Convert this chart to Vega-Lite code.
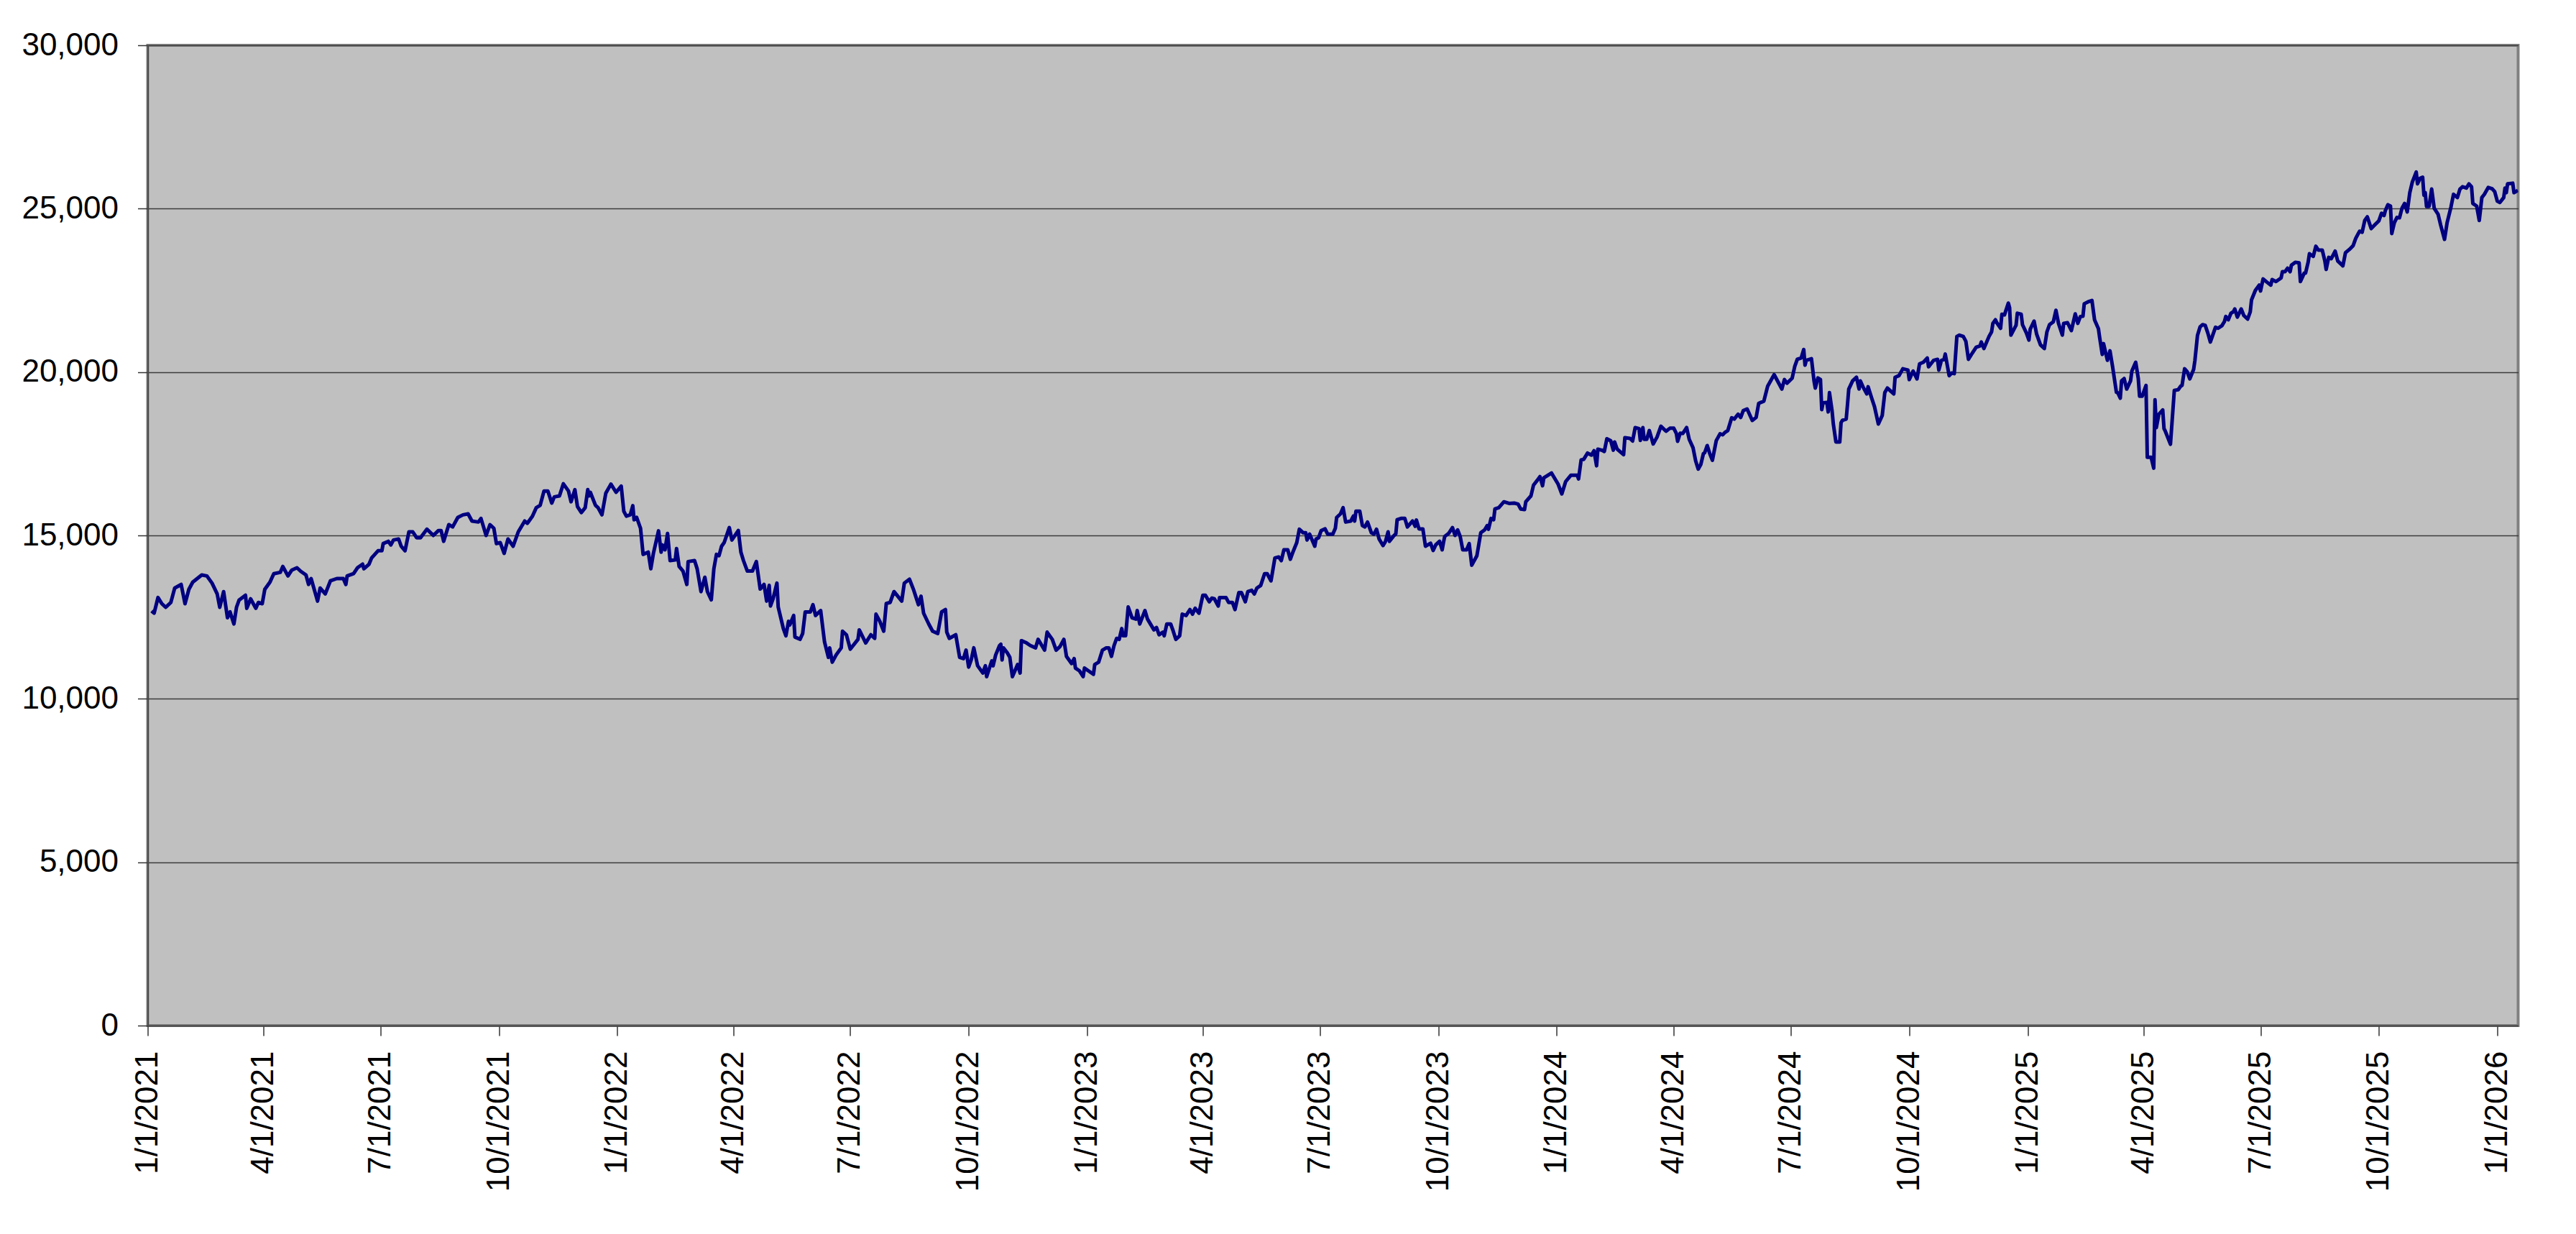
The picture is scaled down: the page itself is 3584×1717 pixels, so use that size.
{
  "$schema": "https://vega.github.io/schema/vega-lite/v6.json",
  "description": "Daily index level, January 2021 to January 2026.",
  "width": 3298,
  "height": 1364,
  "autosize": "none",
  "padding": {"left": 205.5, "top": 63, "right": 80.5, "bottom": 290},
  "background": "#ffffff",
  "data": {"name": "series"},
  "datasets": {
    "series": [
      {"d":"2021-01-04","v":12690},{"d":"2021-01-06","v":12620},{"d":"2021-01-09","v":13100},{"d":"2021-01-12","v":12910},{"d":"2021-01-15","v":12800},{"d":"2021-01-19","v":12950},{"d":"2021-01-22","v":13390},{"d":"2021-01-27","v":13500},{"d":"2021-01-30","v":12910},
      {"d":"2021-02-02","v":13350},{"d":"2021-02-05","v":13570},{"d":"2021-02-12","v":13790},{"d":"2021-02-16","v":13760},{"d":"2021-02-20","v":13540},{"d":"2021-02-24","v":13210},{"d":"2021-02-26","v":12800},
      {"d":"2021-03-01","v":13280},{"d":"2021-03-04","v":12480},{"d":"2021-03-06","v":12660},{"d":"2021-03-09","v":12290},{"d":"2021-03-11","v":12800},{"d":"2021-03-13","v":13020},{"d":"2021-03-18","v":13170},{"d":"2021-03-19","v":12770},{"d":"2021-03-22","v":13060},{"d":"2021-03-26","v":12770},{"d":"2021-03-28","v":12950},{"d":"2021-03-31","v":12910},
      {"d":"2021-04-02","v":13350},{"d":"2021-04-06","v":13570},{"d":"2021-04-09","v":13830},{"d":"2021-04-14","v":13870},{"d":"2021-04-16","v":14050},{"d":"2021-04-20","v":13760},{"d":"2021-04-23","v":13940},{"d":"2021-04-27","v":14010},{"d":"2021-04-30","v":13900},
      {"d":"2021-05-04","v":13790},{"d":"2021-05-06","v":13500},{"d":"2021-05-08","v":13680},{"d":"2021-05-13","v":12990},{"d":"2021-05-15","v":13390},{"d":"2021-05-19","v":13210},{"d":"2021-05-23","v":13610},{"d":"2021-05-28","v":13680},
      {"d":"2021-06-02","v":13680},{"d":"2021-06-04","v":13500},{"d":"2021-06-05","v":13760},{"d":"2021-06-10","v":13830},{"d":"2021-06-13","v":14010},{"d":"2021-06-17","v":14120},{"d":"2021-06-18","v":13980},{"d":"2021-06-22","v":14120},{"d":"2021-06-24","v":14310},{"d":"2021-06-29","v":14530},
      {"d":"2021-07-02","v":14530},{"d":"2021-07-03","v":14750},{"d":"2021-07-07","v":14820},{"d":"2021-07-09","v":14710},{"d":"2021-07-11","v":14860},{"d":"2021-07-15","v":14890},{"d":"2021-07-17","v":14670},{"d":"2021-07-20","v":14530},{"d":"2021-07-23","v":15110},{"d":"2021-07-26","v":15110},{"d":"2021-07-29","v":14930},
      {"d":"2021-08-01","v":14930},{"d":"2021-08-06","v":15190},{"d":"2021-08-11","v":15000},{"d":"2021-08-15","v":15150},{"d":"2021-08-17","v":15150},{"d":"2021-08-19","v":14820},{"d":"2021-08-23","v":15330},{"d":"2021-08-26","v":15260},{"d":"2021-08-30","v":15550},
      {"d":"2021-09-03","v":15630},{"d":"2021-09-07","v":15660},{"d":"2021-09-10","v":15440},{"d":"2021-09-15","v":15410},{"d":"2021-09-17","v":15520},{"d":"2021-09-21","v":15000},{"d":"2021-09-24","v":15330},{"d":"2021-09-27","v":15220},{"d":"2021-09-29","v":14750},
      {"d":"2021-10-02","v":14780},{"d":"2021-10-05","v":14450},{"d":"2021-10-08","v":14890},{"d":"2021-10-12","v":14670},{"d":"2021-10-16","v":15110},{"d":"2021-10-21","v":15440},{"d":"2021-10-23","v":15370},{"d":"2021-10-27","v":15590},{"d":"2021-10-30","v":15850},
      {"d":"2021-11-02","v":15920},{"d":"2021-11-05","v":16360},{"d":"2021-11-08","v":16360},{"d":"2021-11-11","v":15990},{"d":"2021-11-13","v":16180},{"d":"2021-11-17","v":16210},{"d":"2021-11-20","v":16580},{"d":"2021-11-24","v":16360},{"d":"2021-11-26","v":16030},{"d":"2021-11-29","v":16400},
      {"d":"2021-12-01","v":15880},{"d":"2021-12-04","v":15700},{"d":"2021-12-07","v":15850},{"d":"2021-12-09","v":16400},{"d":"2021-12-10","v":16210},{"d":"2021-12-11","v":16320},{"d":"2021-12-15","v":15920},{"d":"2021-12-17","v":15850},{"d":"2021-12-20","v":15630},{"d":"2021-12-23","v":16290},{"d":"2021-12-27","v":16570},{"d":"2021-12-31","v":16320},
      {"d":"2022-01-04","v":16510},{"d":"2022-01-06","v":15740},{"d":"2022-01-08","v":15590},{"d":"2022-01-11","v":15630},{"d":"2022-01-13","v":15910},{"d":"2022-01-14","v":15480},{"d":"2022-01-16","v":15550},{"d":"2022-01-19","v":15220},{"d":"2022-01-21","v":14420},{"d":"2022-01-25","v":14490},{"d":"2022-01-27","v":13980},{"d":"2022-01-29","v":14450},
      {"d":"2022-02-02","v":15140},{"d":"2022-02-04","v":14490},{"d":"2022-02-05","v":14710},{"d":"2022-02-07","v":14560},{"d":"2022-02-09","v":15060},{"d":"2022-02-11","v":14230},{"d":"2022-02-15","v":14250},{"d":"2022-02-16","v":14600},{"d":"2022-02-18","v":14050},{"d":"2022-02-21","v":13910},{"d":"2022-02-24","v":13500},{"d":"2022-02-25","v":14200},
      {"d":"2022-03-02","v":14230},{"d":"2022-03-04","v":13980},{"d":"2022-03-07","v":13280},{"d":"2022-03-10","v":13720},{"d":"2022-03-12","v":13280},{"d":"2022-03-15","v":13030},{"d":"2022-03-17","v":13980},{"d":"2022-03-19","v":14420},{"d":"2022-03-21","v":14380},{"d":"2022-03-23","v":14670},{"d":"2022-03-25","v":14780},{"d":"2022-03-29","v":15240},{"d":"2022-03-31","v":14860},
      {"d":"2022-04-05","v":15150},{"d":"2022-04-07","v":14490},{"d":"2022-04-09","v":14230},{"d":"2022-04-12","v":13910},{"d":"2022-04-16","v":13910},{"d":"2022-04-19","v":14200},{"d":"2022-04-22","v":13360},{"d":"2022-04-25","v":13500},{"d":"2022-04-27","v":12990},{"d":"2022-04-29","v":13470},{"d":"2022-04-30","v":12840},
      {"d":"2022-05-02","v":13060},{"d":"2022-05-05","v":13540},{"d":"2022-05-06","v":12810},{"d":"2022-05-10","v":12150},{"d":"2022-05-12","v":11930},{"d":"2022-05-14","v":12370},{"d":"2022-05-15","v":12260},{"d":"2022-05-18","v":12550},{"d":"2022-05-19","v":11890},{"d":"2022-05-23","v":11820},{"d":"2022-05-25","v":12000},{"d":"2022-05-27","v":12660},{"d":"2022-05-31","v":12660},
      {"d":"2022-06-02","v":12880},{"d":"2022-06-04","v":12550},{"d":"2022-06-08","v":12700},{"d":"2022-06-11","v":11740},{"d":"2022-06-14","v":11270},{"d":"2022-06-15","v":11560},{"d":"2022-06-17","v":11120},{"d":"2022-06-20","v":11340},{"d":"2022-06-24","v":11560},{"d":"2022-06-25","v":12070},{"d":"2022-06-28","v":11960},
      {"d":"2022-07-01","v":11520},{"d":"2022-07-07","v":11820},{"d":"2022-07-08","v":12110},{"d":"2022-07-13","v":11710},{"d":"2022-07-17","v":11960},{"d":"2022-07-20","v":11850},{"d":"2022-07-21","v":12590},{"d":"2022-07-24","v":12370},{"d":"2022-07-27","v":12070},{"d":"2022-07-29","v":12920},
      {"d":"2022-08-01","v":12950},{"d":"2022-08-04","v":13280},{"d":"2022-08-10","v":12990},{"d":"2022-08-12","v":13540},{"d":"2022-08-16","v":13660},{"d":"2022-08-19","v":13360},{"d":"2022-08-23","v":12880},{"d":"2022-08-25","v":13140},{"d":"2022-08-27","v":12620},{"d":"2022-08-31","v":12290},
      {"d":"2022-09-03","v":12070},{"d":"2022-09-07","v":12000},{"d":"2022-09-10","v":12660},{"d":"2022-09-13","v":12730},{"d":"2022-09-14","v":12040},{"d":"2022-09-16","v":11850},{"d":"2022-09-21","v":11960},{"d":"2022-09-24","v":11270},{"d":"2022-09-27","v":11230},{"d":"2022-09-29","v":11490},
      {"d":"2022-10-01","v":10970},{"d":"2022-10-03","v":11190},{"d":"2022-10-05","v":11560},{"d":"2022-10-08","v":11010},{"d":"2022-10-12","v":10790},{"d":"2022-10-14","v":11010},{"d":"2022-10-15","v":10680},{"d":"2022-10-19","v":11160},{"d":"2022-10-20","v":11010},{"d":"2022-10-22","v":11340},{"d":"2022-10-25","v":11630},{"d":"2022-10-26","v":11670},{"d":"2022-10-27","v":11190},{"d":"2022-10-28","v":11560},{"d":"2022-10-31","v":11410},
      {"d":"2022-11-02","v":11270},{"d":"2022-11-04","v":10680},{"d":"2022-11-06","v":10860},{"d":"2022-11-08","v":11050},{"d":"2022-11-10","v":10790},{"d":"2022-11-11","v":11780},{"d":"2022-11-15","v":11710},{"d":"2022-11-18","v":11630},{"d":"2022-11-22","v":11560},{"d":"2022-11-24","v":11820},{"d":"2022-11-29","v":11490},
      {"d":"2022-12-01","v":12040},{"d":"2022-12-05","v":11820},{"d":"2022-12-08","v":11490},{"d":"2022-12-11","v":11600},{"d":"2022-12-14","v":11820},{"d":"2022-12-16","v":11300},{"d":"2022-12-20","v":11080},{"d":"2022-12-22","v":11230},{"d":"2022-12-23","v":10940},{"d":"2022-12-26","v":10860},{"d":"2022-12-29","v":10680},{"d":"2022-12-30","v":10940},
      {"d":"2023-01-02","v":10860},{"d":"2023-01-06","v":10750},{"d":"2023-01-07","v":11050},{"d":"2023-01-10","v":11120},{"d":"2023-01-13","v":11490},{"d":"2023-01-16","v":11560},{"d":"2023-01-18","v":11560},{"d":"2023-01-20","v":11300},{"d":"2023-01-22","v":11630},{"d":"2023-01-24","v":11850},{"d":"2023-01-26","v":11820},{"d":"2023-01-28","v":12150},{"d":"2023-01-29","v":11930},{"d":"2023-01-31","v":11930},
      {"d":"2023-02-02","v":12810},{"d":"2023-02-05","v":12480},{"d":"2023-02-08","v":12440},{"d":"2023-02-09","v":12700},{"d":"2023-02-11","v":12290},{"d":"2023-02-15","v":12700},{"d":"2023-02-17","v":12440},{"d":"2023-02-22","v":12110},{"d":"2023-02-24","v":12180},{"d":"2023-02-26","v":11960},
      {"d":"2023-03-01","v":12040},{"d":"2023-03-02","v":11930},{"d":"2023-03-04","v":12290},{"d":"2023-03-07","v":12290},{"d":"2023-03-09","v":12070},{"d":"2023-03-11","v":11820},{"d":"2023-03-14","v":11930},{"d":"2023-03-16","v":12590},{"d":"2023-03-19","v":12550},{"d":"2023-03-22","v":12730},{"d":"2023-03-24","v":12590},{"d":"2023-03-26","v":12770},{"d":"2023-03-29","v":12620},
      {"d":"2023-04-01","v":13170},{"d":"2023-04-03","v":13170},{"d":"2023-04-06","v":12970},{"d":"2023-04-08","v":13080},{"d":"2023-04-10","v":13060},{"d":"2023-04-13","v":12840},{"d":"2023-04-14","v":13100},{"d":"2023-04-19","v":13100},{"d":"2023-04-21","v":12950},{"d":"2023-04-24","v":12950},{"d":"2023-04-26","v":12730},{"d":"2023-04-29","v":13250},
      {"d":"2023-05-01","v":13250},{"d":"2023-05-04","v":12970},{"d":"2023-05-06","v":13280},{"d":"2023-05-09","v":13320},{"d":"2023-05-11","v":13210},{"d":"2023-05-13","v":13390},{"d":"2023-05-16","v":13470},{"d":"2023-05-19","v":13830},{"d":"2023-05-21","v":13830},{"d":"2023-05-24","v":13610},{"d":"2023-05-27","v":14310},{"d":"2023-05-30","v":14340},
      {"d":"2023-06-01","v":14230},{"d":"2023-06-03","v":14560},{"d":"2023-06-06","v":14560},{"d":"2023-06-08","v":14270},{"d":"2023-06-10","v":14490},{"d":"2023-06-13","v":14780},{"d":"2023-06-15","v":15190},{"d":"2023-06-18","v":15080},{"d":"2023-06-20","v":15080},{"d":"2023-06-21","v":14860},{"d":"2023-06-23","v":15040},{"d":"2023-06-27","v":14670},{"d":"2023-06-28","v":14890},{"d":"2023-06-30","v":14930},
      {"d":"2023-07-02","v":15150},{"d":"2023-07-05","v":15200},{"d":"2023-07-07","v":15040},{"d":"2023-07-11","v":15040},{"d":"2023-07-13","v":15220},{"d":"2023-07-14","v":15550},{"d":"2023-07-17","v":15660},{"d":"2023-07-19","v":15850},{"d":"2023-07-21","v":15410},{"d":"2023-07-25","v":15440},{"d":"2023-07-27","v":15590},{"d":"2023-07-28","v":15440},{"d":"2023-07-29","v":15740},
      {"d":"2023-08-01","v":15740},{"d":"2023-08-03","v":15300},{"d":"2023-08-05","v":15260},{"d":"2023-08-07","v":15410},{"d":"2023-08-10","v":15080},{"d":"2023-08-12","v":15040},{"d":"2023-08-14","v":15190},{"d":"2023-08-16","v":14890},{"d":"2023-08-19","v":14690},{"d":"2023-08-21","v":14820},{"d":"2023-08-23","v":15110},{"d":"2023-08-24","v":14820},{"d":"2023-08-27","v":14970},{"d":"2023-08-29","v":15050},{"d":"2023-08-30","v":15480},
      {"d":"2023-09-02","v":15520},{"d":"2023-09-05","v":15520},{"d":"2023-09-07","v":15260},{"d":"2023-09-11","v":15440},{"d":"2023-09-13","v":15280},{"d":"2023-09-14","v":15470},{"d":"2023-09-16","v":15200},{"d":"2023-09-19","v":15200},{"d":"2023-09-21","v":14670},{"d":"2023-09-25","v":14760},{"d":"2023-09-27","v":14540},{"d":"2023-09-29","v":14710},
      {"d":"2023-10-02","v":14820},{"d":"2023-10-04","v":14560},{"d":"2023-10-05","v":14780},{"d":"2023-10-06","v":14970},{"d":"2023-10-09","v":15060},{"d":"2023-10-12","v":15240},{"d":"2023-10-14","v":15000},{"d":"2023-10-16","v":15170},{"d":"2023-10-18","v":14970},{"d":"2023-10-20","v":14560},{"d":"2023-10-23","v":14560},{"d":"2023-10-25","v":14750},{"d":"2023-10-27","v":14090},{"d":"2023-10-31","v":14380},
      {"d":"2023-11-03","v":15080},{"d":"2023-11-06","v":15170},{"d":"2023-11-08","v":15300},{"d":"2023-11-09","v":15190},{"d":"2023-11-11","v":15520},{"d":"2023-11-13","v":15480},{"d":"2023-11-14","v":15810},{"d":"2023-11-17","v":15850},{"d":"2023-11-21","v":16030},{"d":"2023-11-25","v":15980},{"d":"2023-11-29","v":15990},
      {"d":"2023-12-02","v":15960},{"d":"2023-12-04","v":15810},{"d":"2023-12-07","v":15790},{"d":"2023-12-08","v":16030},{"d":"2023-12-12","v":16210},{"d":"2023-12-14","v":16540},{"d":"2023-12-17","v":16690},{"d":"2023-12-19","v":16800},{"d":"2023-12-21","v":16520},{"d":"2023-12-22","v":16760},{"d":"2023-12-28","v":16910},
      {"d":"2024-01-02","v":16580},{"d":"2024-01-05","v":16270},{"d":"2024-01-08","v":16650},{"d":"2024-01-12","v":16840},{"d":"2024-01-17","v":16840},{"d":"2024-01-18","v":16730},{"d":"2024-01-20","v":17310},{"d":"2024-01-22","v":17330},{"d":"2024-01-25","v":17520},{"d":"2024-01-28","v":17460},{"d":"2024-01-30","v":17590},
      {"d":"2024-02-01","v":17130},{"d":"2024-02-02","v":17640},{"d":"2024-02-05","v":17610},{"d":"2024-02-07","v":17570},{"d":"2024-02-09","v":17960},{"d":"2024-02-12","v":17900},{"d":"2024-02-14","v":17610},{"d":"2024-02-15","v":17860},{"d":"2024-02-17","v":17640},{"d":"2024-02-22","v":17470},{"d":"2024-02-23","v":17990},{"d":"2024-02-27","v":17970},{"d":"2024-02-29","v":17890},
      {"d":"2024-03-02","v":18300},{"d":"2024-03-05","v":18270},{"d":"2024-03-06","v":17910},{"d":"2024-03-08","v":18300},{"d":"2024-03-09","v":17940},{"d":"2024-03-11","v":17940},{"d":"2024-03-13","v":18210},{"d":"2024-03-16","v":17800},{"d":"2024-03-19","v":18010},{"d":"2024-03-22","v":18340},{"d":"2024-03-26","v":18190},{"d":"2024-03-29","v":18280},
      {"d":"2024-04-01","v":18280},{"d":"2024-04-03","v":18120},{"d":"2024-04-04","v":17880},{"d":"2024-04-06","v":18130},{"d":"2024-04-08","v":18120},{"d":"2024-04-11","v":18300},{"d":"2024-04-13","v":17940},{"d":"2024-04-16","v":17680},{"d":"2024-04-18","v":17280},{"d":"2024-04-20","v":17030},{"d":"2024-04-22","v":17170},{"d":"2024-04-24","v":17500},{"d":"2024-04-25","v":17530},{"d":"2024-04-27","v":17750},{"d":"2024-04-29","v":17500},
      {"d":"2024-05-01","v":17300},{"d":"2024-05-04","v":17900},{"d":"2024-05-07","v":18110},{"d":"2024-05-09","v":18080},{"d":"2024-05-11","v":18160},{"d":"2024-05-13","v":18210},{"d":"2024-05-16","v":18600},{"d":"2024-05-18","v":18560},{"d":"2024-05-21","v":18710},{"d":"2024-05-23","v":18610},{"d":"2024-05-25","v":18820},{"d":"2024-05-28","v":18870},
      {"d":"2024-06-01","v":18520},{"d":"2024-06-04","v":18610},{"d":"2024-06-06","v":19040},{"d":"2024-06-10","v":19110},{"d":"2024-06-13","v":19570},{"d":"2024-06-18","v":19920},{"d":"2024-06-21","v":19700},{"d":"2024-06-24","v":19480},{"d":"2024-06-26","v":19770},{"d":"2024-06-28","v":19660},
      {"d":"2024-07-02","v":19810},{"d":"2024-07-04","v":20170},{"d":"2024-07-06","v":20390},{"d":"2024-07-09","v":20430},{"d":"2024-07-11","v":20690},{"d":"2024-07-12","v":20210},{"d":"2024-07-13","v":20360},{"d":"2024-07-17","v":20410},{"d":"2024-07-19","v":19730},{"d":"2024-07-20","v":19510},{"d":"2024-07-22","v":19820},{"d":"2024-07-24","v":19770},{"d":"2024-07-25","v":18850},{"d":"2024-07-26","v":19060},{"d":"2024-07-29","v":19070},{"d":"2024-07-30","v":18780},{"d":"2024-07-31","v":19370},
      {"d":"2024-08-02","v":18820},{"d":"2024-08-03","v":18410},{"d":"2024-08-05","v":17860},{"d":"2024-08-08","v":17860},{"d":"2024-08-09","v":18450},{"d":"2024-08-10","v":18520},{"d":"2024-08-13","v":18560},{"d":"2024-08-14","v":19000},{"d":"2024-08-15","v":19480},{"d":"2024-08-18","v":19730},{"d":"2024-08-21","v":19840},{"d":"2024-08-23","v":19480},{"d":"2024-08-24","v":19730},{"d":"2024-08-26","v":19550},{"d":"2024-08-29","v":19330},{"d":"2024-08-30","v":19550},
      {"d":"2024-09-02","v":19180},{"d":"2024-09-04","v":18940},{"d":"2024-09-07","v":18410},{"d":"2024-09-10","v":18670},{"d":"2024-09-12","v":19370},{"d":"2024-09-14","v":19510},{"d":"2024-09-17","v":19400},{"d":"2024-09-19","v":19330},{"d":"2024-09-20","v":19840},{"d":"2024-09-23","v":19890},{"d":"2024-09-26","v":20100},{"d":"2024-09-30","v":20060},
      {"d":"2024-10-01","v":19770},{"d":"2024-10-04","v":20030},{"d":"2024-10-07","v":19790},{"d":"2024-10-09","v":20250},{"d":"2024-10-12","v":20300},{"d":"2024-10-15","v":20430},{"d":"2024-10-16","v":20160},{"d":"2024-10-20","v":20360},{"d":"2024-10-23","v":20390},{"d":"2024-10-24","v":20060},{"d":"2024-10-26","v":20360},{"d":"2024-10-28","v":20380},{"d":"2024-10-29","v":20550},
      {"d":"2024-11-01","v":19890},{"d":"2024-11-03","v":19970},{"d":"2024-11-05","v":19950},{"d":"2024-11-07","v":21090},{"d":"2024-11-09","v":21130},{"d":"2024-11-12","v":21090},{"d":"2024-11-14","v":20940},{"d":"2024-11-16","v":20390},{"d":"2024-11-19","v":20580},{"d":"2024-11-22","v":20760},{"d":"2024-11-25","v":20800},{"d":"2024-11-26","v":20920},{"d":"2024-11-28","v":20720},
      {"d":"2024-12-02","v":21090},{"d":"2024-12-04","v":21230},{"d":"2024-12-05","v":21490},{"d":"2024-12-07","v":21600},{"d":"2024-12-08","v":21510},{"d":"2024-12-11","v":21340},{"d":"2024-12-12","v":21770},{"d":"2024-12-14","v":21750},{"d":"2024-12-17","v":22110},{"d":"2024-12-18","v":21970},{"d":"2024-12-19","v":21130},{"d":"2024-12-23","v":21430},{"d":"2024-12-24","v":21800},{"d":"2024-12-27","v":21770},{"d":"2024-12-28","v":21450},{"d":"2024-12-31","v":21200},
      {"d":"2025-01-02","v":20980},{"d":"2025-01-03","v":21310},{"d":"2025-01-06","v":21560},{"d":"2025-01-08","v":21160},{"d":"2025-01-11","v":20830},{"d":"2025-01-14","v":20720},{"d":"2025-01-16","v":21230},{"d":"2025-01-18","v":21450},{"d":"2025-01-21","v":21540},{"d":"2025-01-23","v":21890},{"d":"2025-01-25","v":21490},{"d":"2025-01-28","v":21130},{"d":"2025-01-29","v":21490},
      {"d":"2025-02-01","v":21510},{"d":"2025-02-04","v":21270},{"d":"2025-02-07","v":21780},{"d":"2025-02-09","v":21490},{"d":"2025-02-11","v":21700},{"d":"2025-02-13","v":21710},{"d":"2025-02-14","v":22090},{"d":"2025-02-17","v":22150},{"d":"2025-02-20","v":22190},{"d":"2025-02-22","v":21600},{"d":"2025-02-25","v":21330},{"d":"2025-02-26","v":21050},{"d":"2025-02-28","v":20540},
      {"d":"2025-03-01","v":20870},{"d":"2025-03-04","v":20360},{"d":"2025-03-06","v":20650},{"d":"2025-03-08","v":20170},{"d":"2025-03-11","v":19380},{"d":"2025-03-12","v":19370},{"d":"2025-03-14","v":19200},{"d":"2025-03-15","v":19730},{"d":"2025-03-17","v":19800},{"d":"2025-03-19","v":19480},{"d":"2025-03-22","v":19730},{"d":"2025-03-23","v":20030},{"d":"2025-03-26","v":20300},{"d":"2025-03-28","v":19800},{"d":"2025-03-29","v":19260},{"d":"2025-03-31","v":19260},
      {"d":"2025-04-03","v":19590},{"d":"2025-04-04","v":17390},{"d":"2025-04-07","v":17390},{"d":"2025-04-09","v":17060},{"d":"2025-04-10","v":19150},{"d":"2025-04-11","v":18300},{"d":"2025-04-13","v":18710},{"d":"2025-04-16","v":18840},{"d":"2025-04-17","v":18270},{"d":"2025-04-18","v":18190},{"d":"2025-04-22","v":17790},{"d":"2025-04-25","v":19440},{"d":"2025-04-28","v":19460},{"d":"2025-04-30","v":19570},
      {"d":"2025-05-01","v":19590},{"d":"2025-05-03","v":20100},{"d":"2025-05-05","v":20010},{"d":"2025-05-07","v":19790},{"d":"2025-05-10","v":20080},{"d":"2025-05-11","v":20350},{"d":"2025-05-13","v":21120},{"d":"2025-05-15","v":21380},{"d":"2025-05-17","v":21450},{"d":"2025-05-19","v":21430},{"d":"2025-05-21","v":21200},{"d":"2025-05-23","v":20920},{"d":"2025-05-27","v":21370},{"d":"2025-05-29","v":21340},
      {"d":"2025-06-01","v":21420},{"d":"2025-06-03","v":21550},{"d":"2025-06-04","v":21700},{"d":"2025-06-06","v":21600},{"d":"2025-06-08","v":21800},{"d":"2025-06-10","v":21850},{"d":"2025-06-11","v":21930},{"d":"2025-06-13","v":21680},{"d":"2025-06-16","v":21930},{"d":"2025-06-18","v":21730},{"d":"2025-06-21","v":21620},{"d":"2025-06-23","v":21840},{"d":"2025-06-24","v":22210},{"d":"2025-06-27","v":22500},{"d":"2025-06-30","v":22660},
      {"d":"2025-07-01","v":22480},{"d":"2025-07-03","v":22850},{"d":"2025-07-06","v":22750},{"d":"2025-07-09","v":22660},{"d":"2025-07-10","v":22830},{"d":"2025-07-13","v":22770},{"d":"2025-07-17","v":22880},{"d":"2025-07-18","v":23070},{"d":"2025-07-20","v":23070},{"d":"2025-07-22","v":23180},{"d":"2025-07-24","v":23070},{"d":"2025-07-25","v":23270},{"d":"2025-07-28","v":23360},{"d":"2025-07-31","v":23340},
      {"d":"2025-08-01","v":22770},{"d":"2025-08-04","v":23030},{"d":"2025-08-05","v":23030},{"d":"2025-08-07","v":23360},{"d":"2025-08-08","v":23620},{"d":"2025-08-11","v":23540},{"d":"2025-08-13","v":23850},{"d":"2025-08-15","v":23730},{"d":"2025-08-18","v":23730},{"d":"2025-08-20","v":23400},{"d":"2025-08-21","v":23140},{"d":"2025-08-23","v":23510},{"d":"2025-08-25","v":23470},{"d":"2025-08-28","v":23700},{"d":"2025-08-30","v":23400},
      {"d":"2025-09-03","v":23250},{"d":"2025-09-05","v":23650},{"d":"2025-09-08","v":23750},{"d":"2025-09-11","v":23870},{"d":"2025-09-13","v":24090},{"d":"2025-09-15","v":24240},{"d":"2025-09-16","v":24310},{"d":"2025-09-18","v":24280},{"d":"2025-09-20","v":24640},{"d":"2025-09-22","v":24750},{"d":"2025-09-25","v":24390},{"d":"2025-09-28","v":24510},
      {"d":"2025-10-01","v":24630},{"d":"2025-10-03","v":24860},{"d":"2025-10-05","v":24790},{"d":"2025-10-06","v":24940},{"d":"2025-10-08","v":25120},{"d":"2025-10-10","v":25080},{"d":"2025-10-11","v":24240},{"d":"2025-10-13","v":24570},{"d":"2025-10-15","v":24730},{"d":"2025-10-17","v":24720},{"d":"2025-10-19","v":25020},{"d":"2025-10-21","v":25160},{"d":"2025-10-23","v":24900},{"d":"2025-10-25","v":25490},{"d":"2025-10-27","v":25820},{"d":"2025-10-30","v":26120},{"d":"2025-10-31","v":25760},
      {"d":"2025-11-02","v":25930},{"d":"2025-11-04","v":25960},{"d":"2025-11-05","v":25410},{"d":"2025-11-06","v":25490},{"d":"2025-11-07","v":25070},{"d":"2025-11-09","v":25070},{"d":"2025-11-11","v":25600},{"d":"2025-11-13","v":25010},{"d":"2025-11-16","v":24830},{"d":"2025-11-18","v":24500},{"d":"2025-11-21","v":24060},{"d":"2025-11-23","v":24570},{"d":"2025-11-26","v":25050},{"d":"2025-11-28","v":25440},
      {"d":"2025-12-01","v":25340},{"d":"2025-12-03","v":25600},{"d":"2025-12-05","v":25670},{"d":"2025-12-08","v":25630},{"d":"2025-12-10","v":25760},{"d":"2025-12-12","v":25670},{"d":"2025-12-13","v":25160},{"d":"2025-12-16","v":25080},{"d":"2025-12-18","v":24640},{"d":"2025-12-20","v":25340},{"d":"2025-12-22","v":25440},{"d":"2025-12-25","v":25650},{"d":"2025-12-28","v":25610},{"d":"2025-12-30","v":25520},
      {"d":"2026-01-01","v":25230},{"d":"2026-01-03","v":25190},{"d":"2026-01-06","v":25340},{"d":"2026-01-07","v":25630},{"d":"2026-01-08","v":25490},{"d":"2026-01-09","v":25760},{"d":"2026-01-13","v":25780},{"d":"2026-01-14","v":25490},{"d":"2026-01-17","v":25560}
    ]
  },
  "mark": {"type": "line", "color": "#000080", "strokeWidth": 5, "strokeJoin": "round", "clip": true},
  "encoding": {
    "x": {
      "field": "d",
      "type": "temporal",
      "title": null,
      "scale": {
        "type": "utc",
        "domain": [
          {"year": 2021, "month": 1, "date": 1, "utc": true},
          {"year": 2026, "month": 1, "date": 17, "hours": 5, "utc": true}
        ]
      },
      "axis": {
        "values": [
          {"year": 2021, "month": 1, "date": 1, "utc": true},
          {"year": 2021, "month": 4, "date": 1, "utc": true},
          {"year": 2021, "month": 7, "date": 1, "utc": true},
          {"year": 2021, "month": 10, "date": 1, "utc": true},
          {"year": 2022, "month": 1, "date": 1, "utc": true},
          {"year": 2022, "month": 4, "date": 1, "utc": true},
          {"year": 2022, "month": 7, "date": 1, "utc": true},
          {"year": 2022, "month": 10, "date": 1, "utc": true},
          {"year": 2023, "month": 1, "date": 1, "utc": true},
          {"year": 2023, "month": 4, "date": 1, "utc": true},
          {"year": 2023, "month": 7, "date": 1, "utc": true},
          {"year": 2023, "month": 10, "date": 1, "utc": true},
          {"year": 2024, "month": 1, "date": 1, "utc": true},
          {"year": 2024, "month": 4, "date": 1, "utc": true},
          {"year": 2024, "month": 7, "date": 1, "utc": true},
          {"year": 2024, "month": 10, "date": 1, "utc": true},
          {"year": 2025, "month": 1, "date": 1, "utc": true},
          {"year": 2025, "month": 4, "date": 1, "utc": true},
          {"year": 2025, "month": 7, "date": 1, "utc": true},
          {"year": 2025, "month": 10, "date": 1, "utc": true},
          {"year": 2026, "month": 1, "date": 1, "utc": true}
        ],
        "format": "%-m/%-d/%Y",
        "labelAngle": 270,
        "labelAlign": "right",
        "labelBaseline": "middle",
        "labelPadding": 21,
        "labelLimit": 0,
        "labelFlush": false,
        "labelBound": false,
        "labelOverlap": false,
        "grid": false,
        "tickSize": 14
      }
    },
    "y": {
      "field": "v",
      "type": "quantitative",
      "title": null,
      "scale": {"domain": [0, 30000], "nice": false},
      "axis": {
        "values": [0, 5000, 10000, 15000, 20000, 25000, 30000],
        "format": ",.0f",
        "labelPadding": 27,
        "labelLimit": 0,
        "labelOverlap": false,
        "labelFlush": false,
        "grid": true,
        "gridColor": "#3c3c3c",
        "gridWidth": 1.5,
        "tickSize": 14
      }
    }
  },
  "config": {
    "view": {"fill": "#c0c0c0", "stroke": "#808080", "strokeWidth": 4},
    "axis": {
      "labelFont": "Liberation Sans",
      "labelFontSize": 44,
      "labelColor": "#000000",
      "domainColor": "#4a4a4a",
      "domainWidth": 2,
      "tickColor": "#333333",
      "tickWidth": 1.5
    }
  }
}
